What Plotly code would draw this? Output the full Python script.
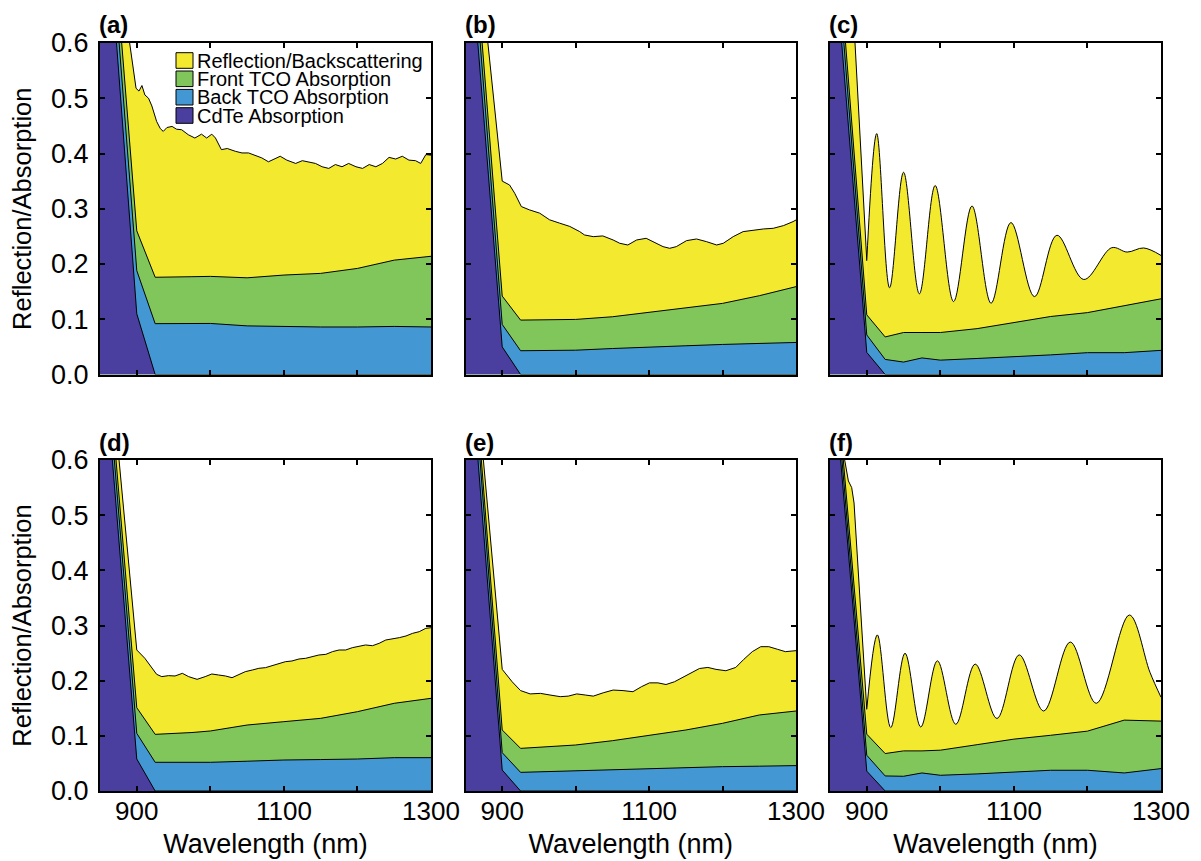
import plotly.graph_objects as go

FONT = "Liberation Sans, Arial, sans-serif"
YELLOW = "#F3EA30"
GREEN = "#80C65B"
BLUE = "#4398D4"
PURPLE = "#4A3E9E"

# wavelength grid (nm) of the absorption layers
layer_wl = [850, 900, 925, 950, 975, 1000, 1050, 1100, 1150, 1200, 1250, 1300]

# ---- upper edge of each stacked band ----
# (a)
a_cdte = [1.00, 0.110, 0, 0, 0, 0, 0, 0, 0, 0, 0, 0]
a_back = [1.046, 0.188, 0.092, 0.0925, 0.0925, 0.0924, 0.088, 0.0865, 0.086, 0.086, 0.087, 0.086]
a_front = [1.089, 0.260, 0.176, 0.176, 0.177, 0.1776, 0.175, 0.180, 0.183, 0.192, 0.207, 0.214]
a_total_wl = [850, 891, 899, 903, 907, 911, 916, 920.5, 927, 932, 936, 941, 948, 954, 961, 970,
              979, 988, 995, 1002, 1007, 1015, 1023, 1034, 1043, 1052, 1061, 1070, 1079, 1088,
              1095, 1104, 1116, 1125, 1134, 1143, 1152, 1161, 1170, 1179, 1188, 1198, 1207,
              1216, 1225, 1234, 1243, 1252, 1261, 1270, 1279, 1286, 1293, 1300]
a_total = [0.98, 0.60, 0.518, 0.513, 0.523, 0.506, 0.500, 0.486, 0.458, 0.445, 0.440, 0.447,
           0.449, 0.444, 0.443, 0.434, 0.428, 0.435, 0.428, 0.435, 0.428, 0.407, 0.409, 0.404,
           0.401, 0.401, 0.397, 0.392, 0.385, 0.390, 0.395, 0.388, 0.382, 0.387, 0.385, 0.382,
           0.376, 0.373, 0.380, 0.376, 0.382, 0.376, 0.373, 0.380, 0.376, 0.382, 0.393, 0.390,
           0.395, 0.388, 0.387, 0.382, 0.398, 0.397]

# (b)
b_cdte = [0.878, 0.050, 0, 0, 0, 0, 0, 0, 0, 0, 0, 0]
b_back = [0.94, 0.0906, 0.043, 0.0435, 0.0438, 0.044, 0.047, 0.050, 0.052, 0.0544, 0.056, 0.058]
b_front = [0.98, 0.142, 0.0985, 0.099, 0.0993, 0.0997, 0.1045, 0.1124, 0.1208, 0.1287, 0.1426, 0.159]
b_total_wl = [850, 880.5, 900, 910, 917, 926, 937, 951, 964.5, 978, 992, 1005.5, 1012, 1024,
              1037, 1051, 1060, 1071, 1083, 1096, 1110, 1119, 1128, 1137, 1151, 1164.5, 1178,
              1192, 1201, 1214.5, 1228, 1242, 1255.5, 1269, 1283, 1296, 1300]
b_total = [0.99, 0.60, 0.350, 0.343, 0.328, 0.304, 0.298, 0.292, 0.280, 0.274, 0.268, 0.2586,
           0.2526, 0.2495, 0.2508, 0.2435, 0.2375, 0.2344, 0.2435, 0.2465, 0.2375, 0.2314,
           0.2284, 0.2314, 0.2423, 0.2453, 0.2405, 0.2344, 0.2375, 0.2495, 0.2586, 0.2616,
           0.2634, 0.2646, 0.2695, 0.2767, 0.2797]

# (c)
c_cdte = [0.861, 0.040, 0, 0, 0, 0, 0, 0, 0, 0, 0, 0]
c_back = [0.92, 0.0716, 0.0273, 0.0225, 0.030, 0.026, 0.029, 0.0316, 0.0355, 0.0395, 0.0395, 0.0437]
c_front = [0.96, 0.108, 0.068, 0.076, 0.076, 0.076, 0.083, 0.094, 0.105, 0.112, 0.124, 0.137]
c_edge_wl = [850, 884, 900]
c_edge = [0.95, 0.60, 0.206]
c_osc_wl = [900, 913.5, 931, 950, 971.5, 993, 1018, 1043, 1069, 1096, 1128, 1158.5, 1195,
            1233, 1254, 1276.5, 1300]
c_osc = [0.206, 0.436, 0.157, 0.366, 0.146, 0.342, 0.132, 0.305, 0.129, 0.275, 0.141, 0.252,
         0.172, 0.2295, 0.2216, 0.229, 0.2155]

# (d)
d_cdte = [0.874, 0.058, 0, 0, 0, 0, 0, 0, 0, 0, 0, 0]
d_back = [0.917, 0.1045, 0.052, 0.052, 0.052, 0.052, 0.054, 0.0562, 0.057, 0.058, 0.0604, 0.0604]
d_front = [0.947, 0.151, 0.1027, 0.104, 0.106, 0.1088, 0.1196, 0.1257, 0.1317, 0.1438, 0.159, 0.168]
d_total_wl = [850, 876, 900, 911, 920.5, 927, 934, 943, 952, 962, 970.5, 982, 993, 1002, 1011,
              1020.5, 1029.5, 1038.5, 1047.5, 1057, 1066, 1075, 1084, 1093, 1102, 1111, 1120.5,
              1129.5, 1138.5, 1147.5, 1157, 1166, 1175, 1184, 1193, 1202, 1211, 1220.5, 1229.5,
              1238.5, 1247.5, 1257, 1266, 1275, 1284, 1293, 1300]
d_total = [0.97, 0.60, 0.2556, 0.2405, 0.2224, 0.2115, 0.2073, 0.2091, 0.2085, 0.2133, 0.2073,
           0.2024, 0.2073, 0.2121, 0.2103, 0.2085, 0.2054, 0.2103, 0.2163, 0.2193, 0.2224,
           0.2236, 0.2272, 0.2296, 0.2344, 0.2357, 0.2393, 0.2405, 0.2435, 0.2465, 0.2477,
           0.2526, 0.2556, 0.2556, 0.2598, 0.2616, 0.2647, 0.2634, 0.2677, 0.2737, 0.2755,
           0.278, 0.281, 0.2858, 0.2888, 0.2949, 0.296]

# (e)
e_cdte = [0.89, 0.038, 0, 0, 0, 0, 0, 0, 0, 0, 0, 0]
e_back = [0.948, 0.0695, 0.0338, 0.0348, 0.0358, 0.0369, 0.039, 0.041, 0.0425, 0.0441, 0.045, 0.046]
e_front = [0.972, 0.1106, 0.0773, 0.079, 0.081, 0.0834, 0.0912, 0.1015, 0.1106, 0.1227, 0.1378, 0.145]
e_total_wl = [850, 874, 900, 913.5, 925, 938, 952, 965, 979, 990, 1001.5, 1013, 1024, 1037.5,
              1051, 1064.5, 1078, 1089.5, 1100.5, 1112, 1123, 1134.5, 1146, 1157, 1168.5, 1180,
              1191, 1204.5, 1218, 1229, 1240.5, 1252, 1263, 1274.5, 1285.5, 1300]
e_total = [0.96, 0.60, 0.2205, 0.198, 0.182, 0.176, 0.177, 0.174, 0.171, 0.172, 0.176, 0.174,
           0.172, 0.178, 0.183, 0.182, 0.180, 0.189, 0.196, 0.196, 0.193, 0.198, 0.206, 0.213,
           0.222, 0.224, 0.2205, 0.218, 0.224, 0.2387, 0.2526, 0.2616, 0.2616, 0.257, 0.2526,
           0.2544]

# (f)
f_cdte = [0.83, 0.036, 0, 0, 0, 0, 0, 0, 0, 0, 0, 0]
f_back = [0.859, 0.0648, 0.0273, 0.0267, 0.0327, 0.0285, 0.031, 0.0345, 0.0376, 0.0376, 0.0327, 0.0406]
f_front = [0.882, 0.103, 0.0679, 0.0727, 0.0727, 0.074, 0.084, 0.094, 0.101, 0.1085, 0.1285, 0.1267]
f_edge_wl = [850, 870.4, 875, 879.5, 882.7, 900]
f_edge = [0.75, 0.60, 0.562, 0.55, 0.522, 0.148]
f_osc_wl = [900, 914.4, 932.6, 952, 973.4, 996, 1021, 1047.4, 1077, 1107.3, 1140.4, 1176.7,
            1212, 1257, 1285, 1300]
f_osc = [0.148, 0.283, 0.115, 0.2497, 0.116, 0.236, 0.121, 0.230, 0.1315, 0.2467, 0.145, 0.270,
         0.159, 0.319, 0.215, 0.170]

series_names = ["Reflection/Backscattering", "Front TCO Absorption",
                "Back TCO Absorption", "CdTe Absorption"]
panel_labels = ["(a)", "(b)", "(c)", "(d)", "(e)", "(f)"]
x_tick_vals = [900, 1000, 1100, 1200, 1300]
x_tick_text = ["900", "", "1100", "", "1300"]

panels = [
    dict(total=[(a_total_wl, a_total, "linear")], front=a_front, back=a_back, cdte=a_cdte),
    dict(total=[(b_total_wl, b_total, "linear")], front=b_front, back=b_back, cdte=b_cdte),
    dict(total=[(c_edge_wl, c_edge, "linear"), (c_osc_wl, c_osc, "spline")],
         front=c_front, back=c_back, cdte=c_cdte),
    dict(total=[(d_total_wl, d_total, "linear")], front=d_front, back=d_back, cdte=d_cdte),
    dict(total=[(e_total_wl, e_total, "linear")], front=e_front, back=e_back, cdte=e_cdte),
    dict(total=[(f_edge_wl, f_edge, "linear"), (f_osc_wl, f_osc, "spline")],
         front=f_front, back=f_back, cdte=f_cdte),
]

# the page body adds an 8 px margin, so the figure is laid out in shifted pixels
OFF = 8
W, H = 1201 - OFF, 861 - OFF
col_px = [(100 - OFF, 431 - OFF), (465.5 - OFF, 796 - OFF), (830 - OFF, 1161 - OFF)]
row_px = [(43 - OFF, 374.5 - OFF), (460 - OFF, 791 - OFF)]

fig = go.Figure()
line = dict(color="black", width=1)

layout = dict(
    width=W, height=H, template="none",
    margin=dict(l=0, r=0, t=0, b=0),
    paper_bgcolor="white", plot_bgcolor="white",
    showlegend=False,
    font=dict(family=FONT, color="black"),
)

annotations = []
shapes = []

for i, p in enumerate(panels):
    r, c = divmod(i, 3)
    k = "" if i == 0 else str(i + 1)
    xa, ya = "x" + k, "y" + k
    for (wl, vals, shape) in p["total"]:
        fig.add_trace(go.Scatter(x=wl, y=vals, mode="lines", fill="tozeroy",
                                 fillcolor=YELLOW, line=dict(color="black", width=1, shape=shape),
                                 name=series_names[0], xaxis=xa, yaxis=ya))
    for key, col, nm in [("front", GREEN, series_names[1]), ("back", BLUE, series_names[2]),
                         ("cdte", PURPLE, series_names[3])]:
        fig.add_trace(go.Scatter(x=layer_wl, y=p[key], mode="lines", fill="tozeroy",
                                 fillcolor=col, line=line, name=nm, xaxis=xa, yaxis=ya))

    x0, x1 = col_px[c]
    y0, y1 = row_px[r]
    xdom = [x0 / W, x1 / W]
    ydom = [1 - y1 / H, 1 - y0 / H]
    xaxis = dict(domain=xdom, anchor=ya, range=[850, 1300], tickvals=x_tick_vals,
                 ticktext=x_tick_text, ticks="inside", ticklen=5, tickwidth=1.5,
                 tickcolor="black", showline=True, linecolor="black", linewidth=2,
                 mirror="ticks", showgrid=False, zeroline=False,
                 tickfont=dict(size=26, family=FONT, color="black"),
                 showticklabels=(r == 1), automargin=False, ticklabelstandoff=-4)
    if r == 1:
        xaxis["title"] = dict(text="Wavelength (nm)", font=dict(size=27, family=FONT, color="black"),
                              standoff=9)
    yaxis = dict(domain=ydom, anchor=xa, range=[0, 0.6], tickvals=[0, 0.1, 0.2, 0.3, 0.4, 0.5, 0.6],
                 tickformat=".1f", ticks="inside", ticklen=5, tickwidth=1.5, tickcolor="black",
                 showline=True, linecolor="black", linewidth=2, mirror="ticks",
                 showgrid=False, zeroline=False,
                 tickfont=dict(size=27, family=FONT, color="black"),
                 showticklabels=(c == 0), automargin=False, ticklabelstandoff=4)
    if c == 0:
        yaxis["title"] = dict(text="Reflection/Absorption", font=dict(size=25.5, family=FONT, color="black"),
                              standoff=14)
    layout["xaxis" + k] = xaxis
    layout["yaxis" + k] = yaxis

    annotations.append(dict(text="<b>" + panel_labels[i] + "</b>", xref="paper", yref="paper",
                            x=(x0 - 3) / W, y=1 - (y0 - 18) / H, xanchor="left", yanchor="middle",
                            showarrow=False, font=dict(size=24, family=FONT, color="black")))

# legend (panel a)
legend_colors = [YELLOW, GREEN, BLUE, PURPLE]
legend_centers_px = [60.5 - OFF, 78.8 - OFF, 97.2 - OFF, 115.5 - OFF]
ax0, ax1 = col_px[0]
ay0, ay1 = row_px[0]
for name, colr, cy in zip(series_names, legend_colors, legend_centers_px):
    ydc = (ay1 - cy) / (ay1 - ay0)
    hh = 7.8 / (ay1 - ay0)
    shapes.append(dict(type="rect", xref="x domain", yref="y domain",
                       x0=(176 - OFF - ax0) / (ax1 - ax0), x1=(193 - OFF - ax0) / (ax1 - ax0),
                       y0=ydc - hh, y1=ydc + hh, fillcolor=colr,
                       line=dict(color="black", width=1), layer="above"))
    annotations.append(dict(text=name, xref="x domain", yref="y domain",
                            x=(195 - OFF - ax0) / (ax1 - ax0), y=ydc, xanchor="left", yanchor="middle",
                            showarrow=False, font=dict(size=20, family=FONT, color="black")))

layout["annotations"] = annotations
layout["shapes"] = shapes
fig.update_layout(**layout)
fig.write_html("out.html")
